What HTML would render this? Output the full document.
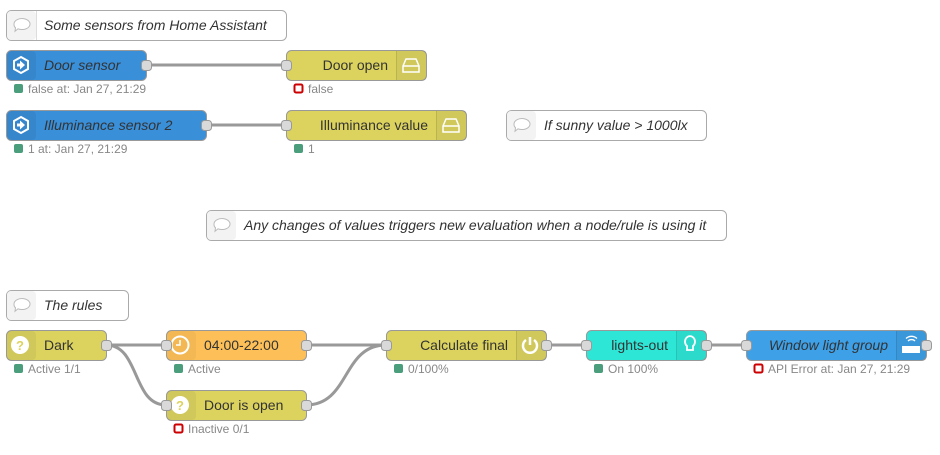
<!DOCTYPE html>
<html><head><style>body{margin:0;background:#fff}svg{display:block;font-family:"Liberation Sans",Arial,sans-serif}</style></head><body>
<svg width="940" height="455" viewBox="0 0 940 455" xmlns="http://www.w3.org/2000/svg">
<defs>
<g id="cm"><path d="M-7,-1 a8,5.5 0 1,1 4,4.8 l-3,2.5 l0.5,-3.5 a6,5 0 0,1 -1.5,-3.8z" fill="#fff" stroke="#bbb" stroke-width="1"/></g>
</defs>
<g fill="none" stroke="#999" stroke-width="3">
<path d="M146,65 H286"/>
<path d="M206,125 H286"/>
<path d="M106,345 H166"/>
<path d="M106,345 C140,345 132,405 166,405"/>
<path d="M306,345 H386"/>
<path d="M306,405 C350,405 342,345 386,345"/>
<path d="M546,345 H586"/>
<path d="M706,345 H746"/>
</g>
<!-- comments -->
<g font-style="italic" font-size="14" fill="#333">
<rect x="6.5" y="10.5" width="280" height="30" rx="5" fill="#fff" stroke="#aaa"/><path d="M36.5,11 V40" stroke="#ddd"/><rect x="7" y="11" width="29" height="29" rx="4" fill="#f3f3f3"/><use href="#cm" x="21" y="25"/><text x="44" y="30">Some sensors from Home Assistant</text>
<rect x="506.5" y="110.5" width="200" height="30" rx="5" fill="#fff" stroke="#aaa"/><rect x="507" y="111" width="29" height="29" rx="4" fill="#f3f3f3"/><use href="#cm" x="521" y="125"/><text x="544" y="130">If sunny value &gt; 1000lx</text>
<rect x="206.5" y="210.5" width="520" height="30" rx="5" fill="#fff" stroke="#aaa"/><rect x="207" y="211" width="29" height="29" rx="4" fill="#f3f3f3"/><use href="#cm" x="221" y="225"/><text x="244" y="230">Any changes of values triggers new evaluation when a node/rule is using it</text>
<rect x="6.5" y="290.5" width="122" height="30" rx="5" fill="#fff" stroke="#aaa"/><rect x="7" y="291" width="29" height="29" rx="4" fill="#f3f3f3"/><use href="#cm" x="21" y="305"/><text x="44" y="310">The rules</text>
</g>
<!-- nodes -->
<g font-size="14" fill="#333" stroke-width="1">
<!-- Door sensor -->
<rect x="6.5" y="50.5" width="140" height="30" rx="5" fill="#3a8fd9" stroke="#999"/><rect x="7" y="51" width="29" height="29" rx="4" fill="rgba(0,0,0,0.06)"/>
<polygon points="21,57 28,61 28,69 21,73 14,69 14,61" fill="none" stroke="#fff" stroke-width="2"/><path d="M17,63.5h3v-3l5,4.5l-5,4.5v-3h-3z" fill="#fff"/>
<text x="44" y="70" font-style="italic">Door sensor</text>
<!-- Illuminance sensor -->
<rect x="6.5" y="110.5" width="200" height="30" rx="5" fill="#3a8fd9" stroke="#999"/><rect x="7" y="111" width="29" height="29" rx="4" fill="rgba(0,0,0,0.06)"/>
<polygon points="21,117 28,121 28,129 21,133 14,129 14,121" fill="none" stroke="#fff" stroke-width="2"/><path d="M17,123.5h3v-3l5,4.5l-5,4.5v-3h-3z" fill="#fff"/>
<text x="44" y="130" font-style="italic">Illuminance sensor 2</text>
<!-- Door open -->
<rect x="286.5" y="50.5" width="140" height="30" rx="5" fill="#dcd35f" stroke="#999"/><rect x="396" y="51" width="30" height="29" fill="rgba(0,0,0,0.05)"/><path d="M396.5,51v29" stroke="rgba(0,0,0,0.1)"/>
<path d="M403,66 l3,-7 h10 l3,7 v6 h-16z M403,66h16" fill="none" stroke="#fff" stroke-width="1.5"/>
<text x="388" y="70" text-anchor="end">Door open</text>
<!-- Illuminance value -->
<rect x="286.5" y="110.5" width="180" height="30" rx="5" fill="#dcd35f" stroke="#999"/><rect x="436" y="111" width="30" height="29" fill="rgba(0,0,0,0.05)"/><path d="M436.5,111v29" stroke="rgba(0,0,0,0.1)"/>
<path d="M443,126 l3,-7 h10 l3,7 v6 h-16z M443,126h16" fill="none" stroke="#fff" stroke-width="1.5"/>
<text x="428" y="130" text-anchor="end">Illuminance value</text>
<!-- Dark -->
<rect x="6.5" y="330.5" width="100" height="30" rx="5" fill="#dcd35f" stroke="#999"/><rect x="7" y="331" width="29" height="29" rx="4" fill="rgba(0,0,0,0.05)"/>
<circle cx="20" cy="345" r="9" fill="#fff"/><text x="20" y="350" text-anchor="middle" font-size="13" font-weight="bold" fill="#dcd35f">?</text>
<text x="44" y="350">Dark</text>
<!-- time -->
<rect x="166.5" y="330.5" width="140" height="30" rx="5" fill="#fdc058" stroke="#999"/><rect x="167" y="331" width="29" height="29" rx="4" fill="rgba(0,0,0,0.04)"/>
<circle cx="180" cy="345" r="8.5" fill="none" stroke="#fff" stroke-width="2"/><path d="M180,340v5h-4" fill="none" stroke="#fff" stroke-width="1.5"/>
<text x="204" y="350">04:00-22:00</text>
<!-- door is open -->
<rect x="166.5" y="390.5" width="140" height="30" rx="5" fill="#dcd35f" stroke="#999"/><rect x="167" y="391" width="29" height="29" rx="4" fill="rgba(0,0,0,0.05)"/>
<circle cx="180" cy="405" r="9" fill="#fff"/><text x="180" y="410" text-anchor="middle" font-size="13" font-weight="bold" fill="#dcd35f">?</text>
<text x="204" y="410">Door is open</text>
<!-- calculate -->
<rect x="386.5" y="330.5" width="160" height="30" rx="5" fill="#dcd35f" stroke="#999"/><rect x="516" y="331" width="30" height="29" fill="rgba(0,0,0,0.05)"/><path d="M516.5,331v29" stroke="rgba(0,0,0,0.1)"/>
<path d="M526,340 a7,7 0 1,0 8,0" fill="none" stroke="#fff" stroke-width="2.5"/><path d="M530,337v8" stroke="#fff" stroke-width="2.5"/>
<text x="508" y="350" text-anchor="end">Calculate final</text>
<!-- lights-out -->
<rect x="586.5" y="330.5" width="120" height="30" rx="5" fill="#2ee6d6" stroke="#999"/><rect x="676" y="331" width="30" height="29" fill="rgba(0,0,0,0.05)"/><path d="M676.5,331v29" stroke="rgba(0,0,0,0.1)"/>
<path d="M687,346 a5,5.5 0 1,1 6,0 v4 h-6z" fill="none" stroke="#fff" stroke-width="1.8"/>
<text x="668" y="350" text-anchor="end">lights-out</text>
<!-- window light group -->
<rect x="746.5" y="330.5" width="180" height="30" rx="5" fill="#3ea1e8" stroke="#999"/><rect x="896" y="331" width="30" height="29" fill="rgba(0,0,0,0.06)"/><path d="M896.5,331v29" stroke="rgba(0,0,0,0.1)"/>
<rect x="902" y="346" width="18" height="7" fill="#fff"/><path d="M908,341 a5,5 0 0,1 7,0 M906,338.5 a8,8 0 0,1 11,0" fill="none" stroke="#fff" stroke-width="1.3"/>
<text x="888" y="350" text-anchor="end" font-style="italic">Window light group</text>
</g>
<!-- ports -->
<g fill="#d9d9d9" stroke="#999">
<rect x="141.5" y="60.5" width="10" height="10" rx="3"/><rect x="281.5" y="60.5" width="10" height="10" rx="3"/>
<rect x="201.5" y="120.5" width="10" height="10" rx="3"/><rect x="281.5" y="120.5" width="10" height="10" rx="3"/>
<rect x="101.5" y="340.5" width="10" height="10" rx="3"/>
<rect x="161.5" y="340.5" width="10" height="10" rx="3"/><rect x="301.5" y="340.5" width="10" height="10" rx="3"/>
<rect x="161.5" y="400.5" width="10" height="10" rx="3"/><rect x="301.5" y="400.5" width="10" height="10" rx="3"/>
<rect x="381.5" y="340.5" width="10" height="10" rx="3"/><rect x="541.5" y="340.5" width="10" height="10" rx="3"/>
<rect x="581.5" y="340.5" width="10" height="10" rx="3"/><rect x="701.5" y="340.5" width="10" height="10" rx="3"/>
<rect x="741.5" y="340.5" width="10" height="10" rx="3"/><rect x="921.5" y="340.5" width="10" height="10" rx="3"/>
</g>
<!-- status -->
<g font-size="12" fill="#888">
<rect x="14" y="84" width="9" height="9" rx="2" fill="#4a9e7b"/><text x="28" y="93">false at: Jan 27, 21:29</text>
<rect x="294.5" y="84.5" width="8" height="8" rx="1.5" fill="#fff" stroke="#c00" stroke-width="2"/><text x="308" y="93">false</text>
<rect x="14" y="144" width="9" height="9" rx="2" fill="#4a9e7b"/><text x="28" y="153">1 at: Jan 27, 21:29</text>
<rect x="294" y="144" width="9" height="9" rx="2" fill="#4a9e7b"/><text x="308" y="153">1</text>
<rect x="14" y="364" width="9" height="9" rx="2" fill="#4a9e7b"/><text x="28" y="373">Active 1/1</text>
<rect x="174" y="364" width="9" height="9" rx="2" fill="#4a9e7b"/><text x="188" y="373">Active</text>
<rect x="394" y="364" width="9" height="9" rx="2" fill="#4a9e7b"/><text x="408" y="373">0/100%</text>
<rect x="594" y="364" width="9" height="9" rx="2" fill="#4a9e7b"/><text x="608" y="373">On 100%</text>
<rect x="754.5" y="364.5" width="8" height="8" rx="1.5" fill="#fff" stroke="#c00" stroke-width="2"/><text x="768" y="373">API Error at: Jan 27, 21:29</text>
<rect x="174.5" y="424.5" width="8" height="8" rx="1.5" fill="#fff" stroke="#c00" stroke-width="2"/><text x="188" y="433">Inactive 0/1</text>
</g>
</svg>
</body></html>
